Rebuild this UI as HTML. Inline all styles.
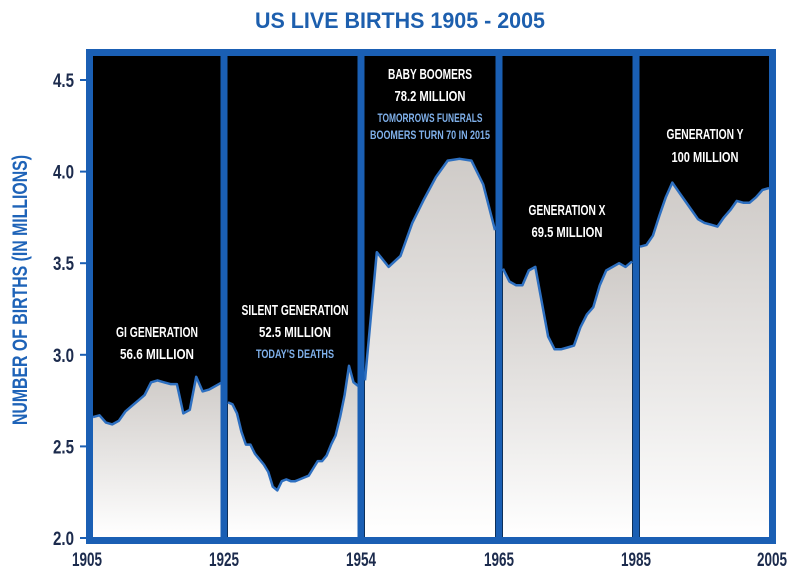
<!DOCTYPE html>
<html><head><meta charset="utf-8"><style>
html,body{margin:0;padding:0;background:#fff;width:800px;height:575px;overflow:hidden}
svg text{font-family:"Liberation Sans Narrow","Liberation Sans",sans-serif;font-weight:bold}
</style></head><body>
<svg id="chart" width="800" height="575" viewBox="0 0 800 575" xmlns="http://www.w3.org/2000/svg">
<defs><linearGradient id="fillg" x1="0" y1="0" x2="0" y2="1"><stop offset="0" stop-color="#cfcbc8"/><stop offset="1" stop-color="#ffffff"/></linearGradient></defs>
<text x="400" y="28" text-anchor="middle" font-size="22" fill="#1d5fae" textLength="290" lengthAdjust="spacingAndGlyphs">US LIVE BIRTHS 1905 - 2005</text>
<text transform="translate(27,290) rotate(-90)" text-anchor="middle" font-size="21" fill="#1e63b8" textLength="270" lengthAdjust="spacingAndGlyphs">NUMBER OF BIRTHS (IN MILLIONS)</text>
<rect x="86" y="49" width="690" height="495" fill="#000"/>
<g id="marks"></g>
<g id="frame"></g>
<g id="labels"></g>
</svg>
<script>
const yTicks=[2.0,2.5,3.0,3.5,4.0,4.5];
const xTickLabels=["1905","1925","1954","1965","1985","2005"];
const panelStartYears=[1905,1925,1954,1965,1985];
const panelEndYears=[1925,1954,1965,1985,2005];
const gi=[2.66,2.67,2.63,2.62,2.64,2.69,2.72,2.75,2.78,2.85,2.86,2.85,2.84,2.84,2.68,2.70,2.88,2.80,2.81,2.83,2.85];
const silent=[2.74,2.73,2.68,2.58,2.51,2.51,2.46,2.43,2.40,2.36,2.28,2.26,2.31,2.32,2.31,2.31,2.32,2.33,2.34,2.38,2.42,2.42,2.45,2.51,2.56,2.66,2.78,2.94,2.85,2.83];
const boomers=[2.86,3.56,3.48,3.54,3.72,3.85,3.97,4.06,4.07,4.06,3.93,3.68];
const genX=[3.47,3.40,3.38,3.38,3.46,3.48,3.29,3.10,3.03,3.03,3.04,3.05,3.15,3.22,3.26,3.38,3.46,3.48,3.50,3.48,3.51];
const genY=[3.59,3.60,3.65,3.76,3.86,3.94,3.89,3.84,3.79,3.74,3.72,3.71,3.70,3.75,3.79,3.84,3.83,3.83,3.86,3.90,3.91];
const series=[gi,silent,boomers,genX,genY];
const seriesNames=["gi","silent","boomers","gen-x","gen-y"];

const NS="http://www.w3.org/2000/svg";
const panelPx=[[93,222],[228,358],[365,495],[503,632],[640,769]];
const dividerX=[224,361,499,636];
const PB=537;
function y(v){return 538-(v-2)*183.2;}
function x(p,yr){const a=panelPx[p];return a[0]+(yr-panelStartYears[p])/(panelEndYears[p]-panelStartYears[p])*(a[1]-a[0]);}
function mk(tag,attrs,parent){const e=document.createElementNS(NS,tag);for(const k in attrs)e.setAttribute(k,attrs[k]);parent.appendChild(e);return e;}
const marks=document.getElementById('marks'),frame=document.getElementById('frame'),labels=document.getElementById('labels');

series.forEach((d,p)=>{
  const pts=d.map((v,i)=>[x(p,panelStartYears[p]+i),y(v)]);
  const line=pts.map((q,i)=>(i?'L':'M')+q[0].toFixed(1)+','+q[1].toFixed(1)).join(' ');
  const area=mk('path',{d:line+` L${pts[pts.length-1][0].toFixed(1)},${PB} L${pts[0][0].toFixed(1)},${PB} Z`,fill:'url(#fillg)'},marks);
  
  
  const ln=mk('path',{d:line,fill:'none',stroke:'#2d6fc0','stroke-width':2.5,'stroke-linejoin':'round'},marks);
  
  
});

const border=mk('rect',{x:89.5,y:52.5,width:683,height:488,fill:'none',stroke:'#1a5fb4','stroke-width':7},frame);


dividerX.forEach(dx=>{
  const r=mk('rect',{x:dx-3.5,y:49,width:7,height:495,fill:'#1a5fb4'},frame);
  
  
});

yTicks.forEach(t=>{
  const tk=mk('line',{x1:80,x2:86,y1:y(t),y2:y(t),stroke:'#1a5fb4','stroke-width':2},frame);
  
  
  const tx=mk('text',{x:74,y:y(t)+7,'text-anchor':'end','font-size':19,fill:'#1c2b4d',textLength:21,lengthAdjust:'spacingAndGlyphs'},frame);
  tx.textContent=t.toFixed(1);
  
  
});
const xTickPx=[87,224,361,499,636,772];
xTickLabels.forEach((l,i)=>{
  const tx=mk('text',{x:xTickPx[i],y:566,'text-anchor':'middle','font-size':19,fill:'#1c2b4d',textLength:30,lengthAdjust:'spacingAndGlyphs'},frame);
  tx.textContent=l;
  
  
});

const ann=[
 ["gi-title","GI GENERATION",157,337,"#fff",15,82],
 ["gi-total","56.6 MILLION",157,359,"#fff",15,74],
 ["silent-title","SILENT GENERATION",295,315,"#fff",15,107],
 ["silent-total","52.5 MILLION",295,337,"#fff",15,72],
 ["silent-note","TODAY'S DEATHS",295,358,"#7fb0ea",12,78],
 ["boomers-title","BABY BOOMERS",430,79,"#fff",15,84],
 ["boomers-total","78.2 MILLION",430,101,"#fff",15,71],
 ["boomers-note-1","TOMORROWS FUNERALS",430,122,"#7fb0ea",12,105],
 ["boomers-note-2","BOOMERS TURN 70 IN 2015",430,139,"#7fb0ea",12,120],
 ["genx-title","GENERATION X",567,215,"#fff",15,77],
 ["genx-total","69.5 MILLION",567,237,"#fff",15,71],
 ["geny-title","GENERATION Y",705,139,"#fff",15,77],
 ["geny-total","100 MILLION",705,162,"#fff",15,67]
];
ann.forEach(a=>{
  const t=mk('text',{x:a[2],y:a[3],'text-anchor':'middle',fill:a[4],'font-size':a[5],textLength:a[6],lengthAdjust:'spacingAndGlyphs'},labels);
  t.textContent=a[1];
  
  
});
</script>
</body></html>
